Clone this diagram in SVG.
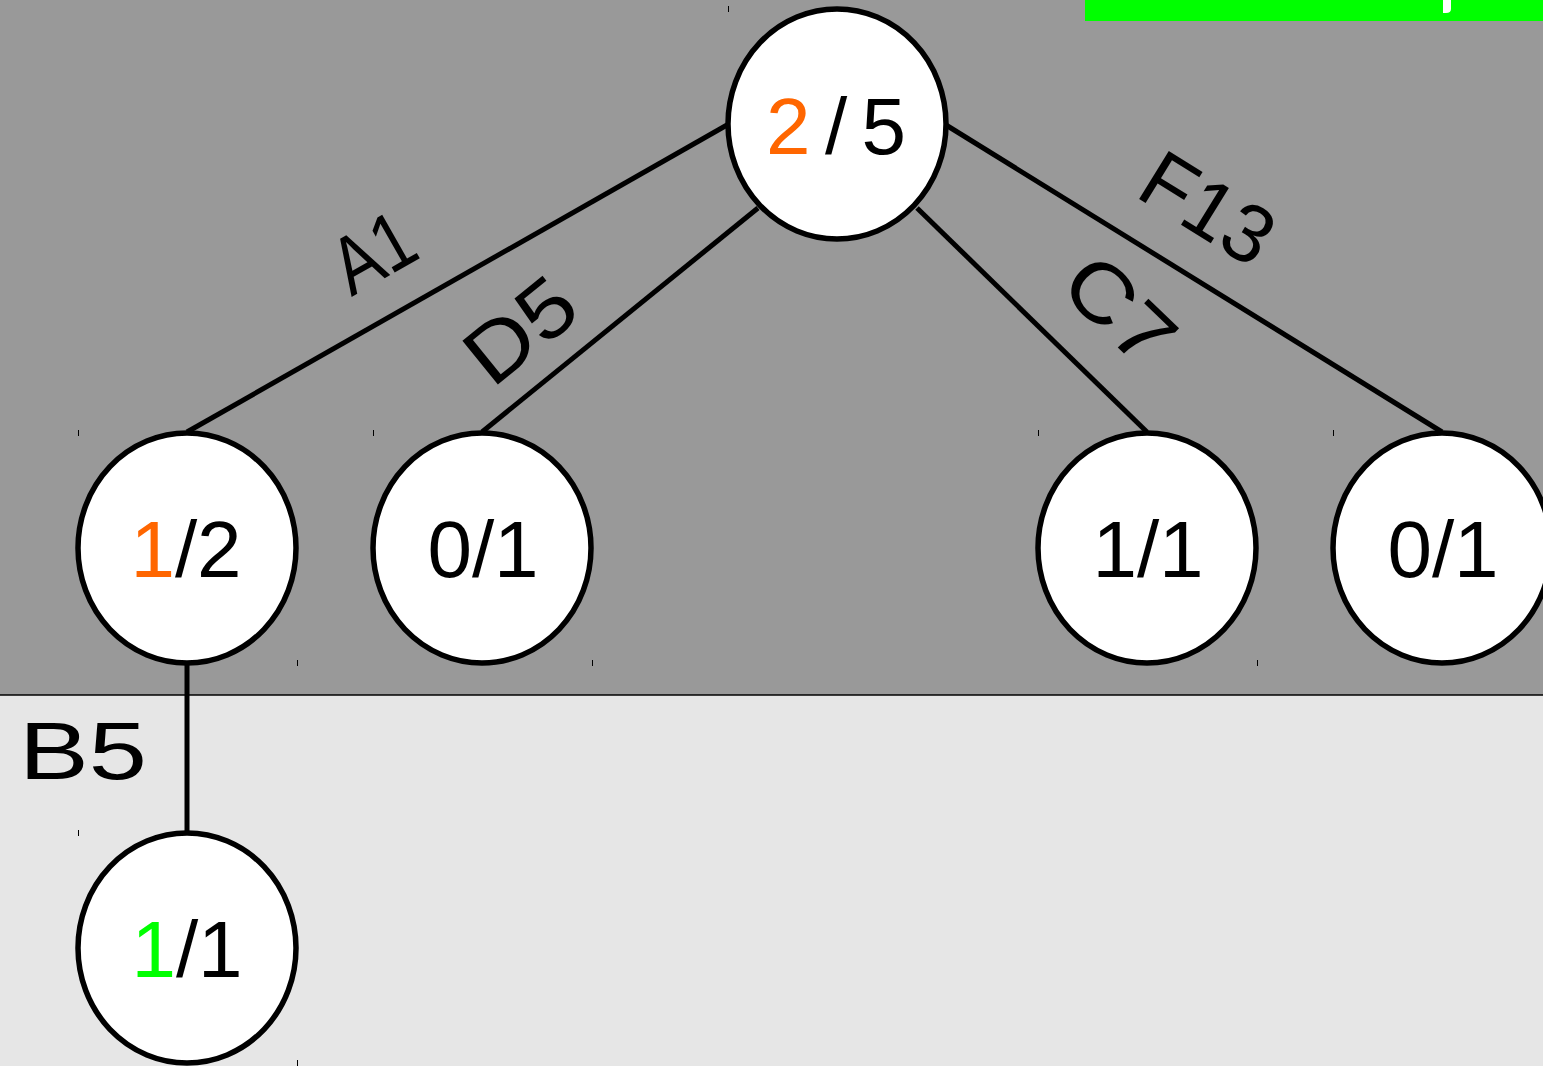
<svg xmlns="http://www.w3.org/2000/svg" width="1543" height="1066" viewBox="0 0 1543 1066">
  <style>
    .node { fill: #ffffff; stroke: #000000; stroke-width: 5.5; }
    .edge { stroke: #000000; stroke-width: 5; fill: none; }
    .tick { stroke: #000000; stroke-width: 1; }
    .val { font-family: "Liberation Sans", "DejaVu Sans", sans-serif; font-size: 80px; fill: #000000; text-anchor: middle; }
    .lbl { font-family: "Liberation Sans", "DejaVu Sans", sans-serif; font-size: 82px; fill: #000000; text-anchor: middle; dominant-baseline: central; }
    .hot { fill: #ff6600; }
    .win { fill: #00ff00; }
  </style>

  <!-- background bands -->
  <rect x="0" y="0" width="1543" height="695" fill="#999999"/>
  <rect x="0" y="695" width="1543" height="371" fill="#e6e6e6"/>
  <line x1="0" y1="695" x2="1543" y2="695" stroke="#000000" stroke-width="1.5"/>
  <rect x="1085" y="0" width="458" height="21" fill="#00ff00"/>
  <path d="M1443 0 H1451 V9 Q1451 13 1446 13 H1443 Z" fill="#ffffff"/>

  <!-- bounding-box ticks -->
  <g id="ticks">
    <line class="tick" x1="728.5" y1="6" x2="728.5" y2="12"/>
    <line class="tick" x1="78.5" y1="430" x2="78.5" y2="436"/>
    <line class="tick" x1="373.5" y1="430" x2="373.5" y2="436"/>
    <line class="tick" x1="1038.5" y1="430" x2="1038.5" y2="436"/>
    <line class="tick" x1="1333.5" y1="430" x2="1333.5" y2="436"/>
    <line class="tick" x1="297.5" y1="660" x2="297.5" y2="666"/>
    <line class="tick" x1="592.5" y1="660" x2="592.5" y2="666"/>
    <line class="tick" x1="1257.5" y1="660" x2="1257.5" y2="666"/>
    <line class="tick" x1="78.5" y1="830" x2="78.5" y2="836"/>
    <line class="tick" x1="297.5" y1="1060" x2="297.5" y2="1066"/>
  </g>

  <!-- connectors -->
  <g id="edges">
    <line class="edge" x1="727" y1="125" x2="187" y2="432"/>
    <line class="edge" x1="758" y1="208" x2="482" y2="432"/>
    <line class="edge" x1="917" y1="208" x2="1147" y2="432"/>
    <line class="edge" x1="946" y1="125" x2="1442" y2="432"/>
    <line class="edge" x1="187" y1="663" x2="187" y2="832"/>
    <text class="lbl" transform="translate(373 252) rotate(-29.6)" textLength="82" lengthAdjust="spacingAndGlyphs">A1</text>
    <text class="lbl" transform="translate(520 330) rotate(-39)" textLength="118" lengthAdjust="spacingAndGlyphs">D5</text>
    <text class="lbl" transform="translate(1120 310) rotate(44)" textLength="120" lengthAdjust="spacingAndGlyphs">C7</text>
    <text class="lbl" transform="translate(1208 208) rotate(31.7)" textLength="140" lengthAdjust="spacingAndGlyphs">F13</text>
    <text class="lbl" x="83" y="750" textLength="128" lengthAdjust="spacingAndGlyphs">B5</text>
  </g>

  <!-- nodes -->
  <g id="root">
    <ellipse class="node" cx="837" cy="124" rx="109" ry="115"/>
    <text class="val" x="836" y="154" textLength="140"><tspan class="hot">2</tspan>/5</text>
  </g>
  <g id="nodeA">
    <ellipse class="node" cx="187" cy="548" rx="109" ry="115"/>
    <text class="val" x="186" y="577"><tspan class="hot">1</tspan>/2</text>
  </g>
  <g id="nodeD">
    <ellipse class="node" cx="482" cy="548" rx="109" ry="115"/>
    <text class="val" x="483" y="577">0/1</text>
  </g>
  <g id="nodeC">
    <ellipse class="node" cx="1147" cy="548" rx="109" ry="115"/>
    <text class="val" x="1148" y="577">1/1</text>
  </g>
  <g id="nodeF">
    <ellipse class="node" cx="1442" cy="548" rx="109" ry="115"/>
    <text class="val" x="1443" y="577">0/1</text>
  </g>
  <g id="nodeB">
    <ellipse class="node" cx="187" cy="948" rx="109" ry="115"/>
    <text class="val" x="187" y="977"><tspan class="win">1</tspan>/1</text>
  </g>
</svg>
